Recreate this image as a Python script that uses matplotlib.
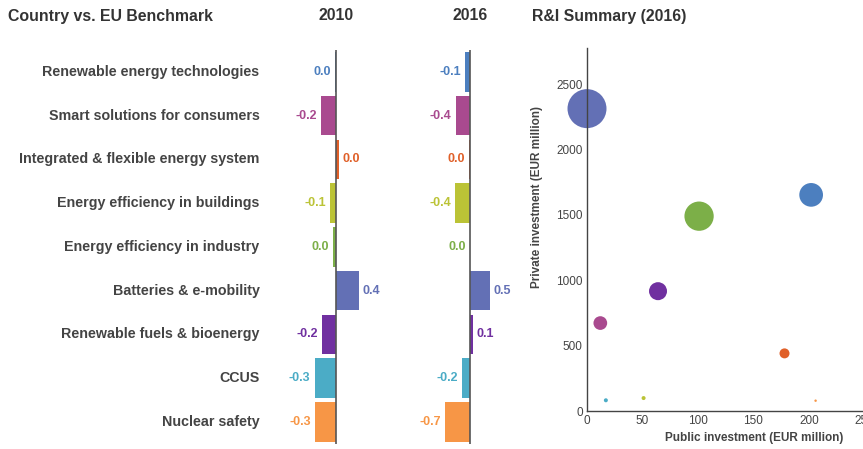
import numpy as np
import matplotlib
matplotlib.use("Agg")
import matplotlib.pyplot as plt

plt.rcParams['font.family'] = ['Liberation Sans', 'DejaVu Sans']

# data
categories = ["Renewable energy technologies", "Smart solutions for consumers",
              "Integrated & flexible energy system", "Energy efficiency in buildings",
              "Energy efficiency in industry", "Batteries & e-mobility",
              "Renewable fuels & bioenergy", "CCUS", "Nuclear safety"]
colors = ["#4C7FBF", "#A94A8F", "#E06029", "#BBC336", "#7CAF48",
          "#6370B5", "#7030A0", "#4BACC6", "#F79646"]

bench_2010 = [-0.02, -0.24, 0.04, -0.09, -0.04, 0.36, -0.22, -0.34, -0.33]
bench_2016 = [-0.14, -0.39, -0.04, -0.41, -0.01, 0.53, 0.07, -0.22, -0.68]

public_inv = [202, 12, 178, 51, 101, 0, 64, 17, 206]
private_inv = [1654, 673, 441, 99, 1491, 2314, 917, 82, 79]
bubble_metric = [562, 188, 100, 16, 858, 1521, 324, 16, 6]

W, H = 863, 449
fig = plt.figure(figsize=(W / 100, H / 100), dpi=100)


def px_axes(x0, y0, x1, y1):
    # pixel box (top-left origin) -> figure axes
    return fig.add_axes([x0 / W, 1 - y1 / H, (x1 - x0) / W, (y1 - y0) / H])


def fmt(v):
    s = f"{v:.1f}"
    return "0.0" if s == "-0.0" else s


def bar_panel(box, vals, half, title):
    ax = px_axes(*box)
    y = np.arange(len(vals))
    ax.barh(y, vals, height=0.9, color=colors, zorder=2)
    ax.axvline(0, color="#555555", lw=1.2, zorder=3)
    ax.set_xlim(-half, half)
    ax.set_ylim(len(vals) - 0.5, -0.5)
    ax.axis("off")
    for yi, v, c in zip(y, vals, colors):
        off = 4 if v > 0 else -4
        ax.annotate(fmt(v), (v, yi), xytext=(off * 0.72, 0), textcoords="offset points",
                    ha="left" if v > 0 else "right", va="center",
                    fontsize=9, fontweight="bold", color=c)
    cx = (box[0] + box[2]) / 2
    fig.text(cx / W, 1 - 16 / H, title, ha="center", va="center",
             fontsize=11.4, fontweight="bold", color="#333333")
    return ax


ax1 = bar_panel((290, 50, 382, 443.7), bench_2010, 46 / 63, "2010")
ax2 = bar_panel((424, 50, 516, 443.7), bench_2016, 46 / 37, "2016")

# category labels
for i, cat in enumerate(categories):
    ax1.annotate(cat, (0, i), xycoords=("figure fraction", "data"),
                 xytext=(259.5 / W, 0), textcoords=("figure fraction", "offset points"),
                 ha="right", va="center", fontsize=10.3, fontweight="bold", color="#444444")

fig.text(8 / W, 1 - 16 / H, "Country vs. EU Benchmark", ha="left", va="center",
         fontsize=11.4, fontweight="bold", color="#333333")
fig.text(532 / W, 1 - 16 / H, "R&I Summary (2016)", ha="left", va="center",
         fontsize=11.4, fontweight="bold", color="#333333")

# bubble chart
ax3 = px_axes(587, 48, 921, 411)
sizes = [m * 0.518 for m in bubble_metric]
ax3.scatter(public_inv, private_inv, s=sizes, c=colors, linewidths=0, clip_on=False, zorder=1)
ax3.set_xlim(0, 301)
ax3.set_ylim(0, 2778)
ax3.set_xticks([0, 50, 100, 150, 200, 250])
ax3.set_yticks([0, 500, 1000, 1500, 2000, 2500])
for s in ["top", "right"]:
    ax3.spines[s].set_visible(False)
for s in ["left", "bottom"]:
    ax3.spines[s].set_color("#444444")
    ax3.spines[s].set_linewidth(1.0)
ax3.tick_params(length=0, labelsize=8.5, labelcolor="#444444", pad=3)
ax3.text(0.5, -(437.7 - 411) / 363, "Public investment (EUR million)", transform=ax3.transAxes,
         ha="center", va="center", fontsize=8.5, fontweight="bold", color="#444444")
ax3.text((537 - 587) / 334, (411 - 197.5) / 363, "Private investment (EUR million)",
         transform=ax3.transAxes, rotation=90, ha="center", va="center",
         fontsize=8.5, fontweight="bold", color="#444444")

fig.savefig("out.png", dpi=100)
